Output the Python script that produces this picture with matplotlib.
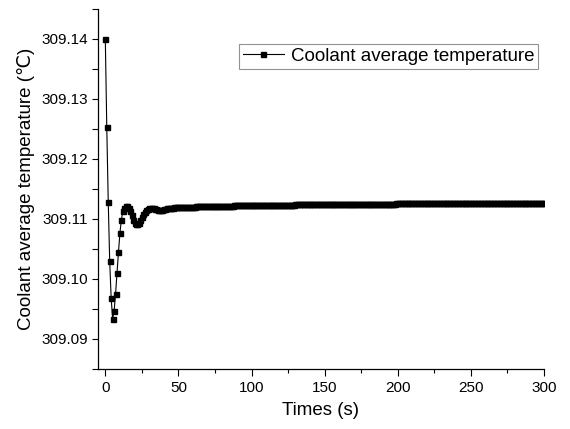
import numpy as np
import matplotlib
matplotlib.use('Agg')
import matplotlib.pyplot as plt
from matplotlib.ticker import MultipleLocator, FormatStrFormatter

plt.rcParams['font.family'] = ['Liberation Sans', 'DejaVu Sans']

# time grid, one sample per second
times = np.arange(0, 301)

# coolant average temperature (C)
temp_start = [
    309.1400, 309.1253, 309.1129, 309.1030, 309.0968, 309.0934, 309.0946, 309.0975, 309.1010, 309.1045,
    309.1077, 309.1099, 309.1113, 309.1118, 309.1121, 309.1121, 309.1118, 309.1113, 309.1106, 309.1099,
    309.1094, 309.1092, 309.1092, 309.1094, 309.1098, 309.1103, 309.1108, 309.1112, 309.1115, 309.1117,
    309.1118, 309.1118, 309.1118, 309.1118, 309.1117, 309.1116, 309.1115, 309.1115, 309.1115, 309.1115,
    309.1116, 309.1117, 309.1118, 309.1118, 309.1119, 309.1119, 309.1119, 309.1120, 309.1120, 309.1120,
    309.1120,
]
temp_rest = [
    309.11201, 309.11202, 309.11202, 309.11203, 309.11204, 309.11205, 309.11205, 309.11206, 309.11207, 309.11208,
    309.11208, 309.11209, 309.11210, 309.11210, 309.11211, 309.11212, 309.11212, 309.11213, 309.11214, 309.11214,
    309.11215, 309.11216, 309.11216, 309.11217, 309.11218, 309.11218, 309.11219, 309.11219, 309.11220, 309.11221,
    309.11221, 309.11222, 309.11222, 309.11223, 309.11223, 309.11224, 309.11224, 309.11225, 309.11225, 309.11226,
    309.11226, 309.11227, 309.11227, 309.11228, 309.11228, 309.11229, 309.11229, 309.11230, 309.11230, 309.11231,
    309.11231, 309.11231, 309.11232, 309.11232, 309.11233, 309.11233, 309.11233, 309.11234, 309.11234, 309.11235,
    309.11235, 309.11235, 309.11236, 309.11236, 309.11236, 309.11237, 309.11237, 309.11238, 309.11238, 309.11238,
    309.11239, 309.11239, 309.11239, 309.11240, 309.11240, 309.11240, 309.11241, 309.11241, 309.11241, 309.11242,
    309.11242, 309.11242, 309.11243, 309.11243, 309.11243, 309.11244, 309.11244, 309.11244, 309.11244, 309.11245,
    309.11245, 309.11245, 309.11246, 309.11246, 309.11246, 309.11246, 309.11247, 309.11247, 309.11247, 309.11248,
    309.11248, 309.11248, 309.11248, 309.11249, 309.11249, 309.11249, 309.11249, 309.11250, 309.11250, 309.11250,
    309.11250, 309.11251, 309.11251, 309.11251, 309.11251, 309.11252, 309.11252, 309.11252, 309.11252, 309.11253,
    309.11253, 309.11253, 309.11253, 309.11253, 309.11254, 309.11254, 309.11254, 309.11254, 309.11255, 309.11255,
    309.11255, 309.11255, 309.11255, 309.11256, 309.11256, 309.11256, 309.11256, 309.11256, 309.11257, 309.11257,
    309.11257, 309.11257, 309.11257, 309.11258, 309.11258, 309.11258, 309.11258, 309.11258, 309.11259, 309.11259,
    309.11259, 309.11259, 309.11259, 309.11259, 309.11260, 309.11260, 309.11260, 309.11260, 309.11260, 309.11261,
    309.11261, 309.11261, 309.11261, 309.11261, 309.11261, 309.11262, 309.11262, 309.11262, 309.11262, 309.11262,
    309.11262, 309.11263, 309.11263, 309.11263, 309.11263, 309.11263, 309.11263, 309.11264, 309.11264, 309.11264,
    309.11264, 309.11264, 309.11264, 309.11264, 309.11265, 309.11265, 309.11265, 309.11265, 309.11265, 309.11265,
    309.11265, 309.11266, 309.11266, 309.11266, 309.11266, 309.11266, 309.11266, 309.11266, 309.11267, 309.11267,
    309.11267, 309.11267, 309.11267, 309.11267, 309.11267, 309.11267, 309.11268, 309.11268, 309.11268, 309.11268,
    309.11268, 309.11268, 309.11268, 309.11268, 309.11269, 309.11269, 309.11269, 309.11269, 309.11269, 309.11269,
    309.11269, 309.11269, 309.11270, 309.11270, 309.11270, 309.11270, 309.11270, 309.11270, 309.11270, 309.11270,
    309.11271, 309.11271, 309.11271, 309.11271, 309.11271, 309.11271, 309.11271, 309.11271, 309.11272, 309.11272,
    309.11272, 309.11272, 309.11272, 309.11272, 309.11272, 309.11272, 309.11272, 309.11273, 309.11273, 309.11273,
]
temps = np.array(temp_start + temp_rest)

fig = plt.figure(figsize=(5.7, 4.29), dpi=100)
ax = fig.add_axes([98 / 570, 1 - 369 / 429, (544 - 98) / 570, (369 - 9) / 429])

ax.plot(times, temps, color='black', lw=0.8, marker='s', ms=3.6, mfc='black', mec='black',
        label='Coolant average temperature')

ax.set_xlim(-5, 300)
ax.set_ylim(309.085, 309.145)
ax.xaxis.set_major_locator(MultipleLocator(50))
ax.xaxis.set_minor_locator(MultipleLocator(25))
ax.yaxis.set_major_locator(MultipleLocator(0.01))
ax.yaxis.set_minor_locator(MultipleLocator(0.005))
ax.yaxis.set_major_formatter(FormatStrFormatter('%.2f'))

for s in ['top', 'right']:
    ax.spines[s].set_visible(False)
for s in ['left', 'bottom']:
    ax.spines[s].set_linewidth(0.9)

ax.tick_params(axis='x', which='major', direction='out', length=5, width=0.8, labelsize=11, pad=4)
ax.tick_params(axis='x', which='minor', direction='out', length=3, width=0.8)
ax.tick_params(axis='y', which='major', direction='out', length=4, width=0.8, labelsize=11, pad=3)
ax.tick_params(axis='y', which='minor', direction='out', length=4, width=0.8)

ax.set_xlabel('Times (s)', fontsize=13.5, labelpad=5)
ax.set_ylabel('Coolant average temperature (\u2103)', fontsize=13.5, labelpad=5)

leg = ax.legend(loc='upper right', bbox_to_anchor=(0.987, 0.903), borderaxespad=0,
                fontsize=13.5, frameon=True, fancybox=False, numpoints=1,
                handlelength=2.2, handletextpad=0.37, borderpad=0.2)
leg.get_frame().set_edgecolor('#777777')
leg.get_frame().set_linewidth(0.8)

fig.savefig('out.png', dpi=100)
